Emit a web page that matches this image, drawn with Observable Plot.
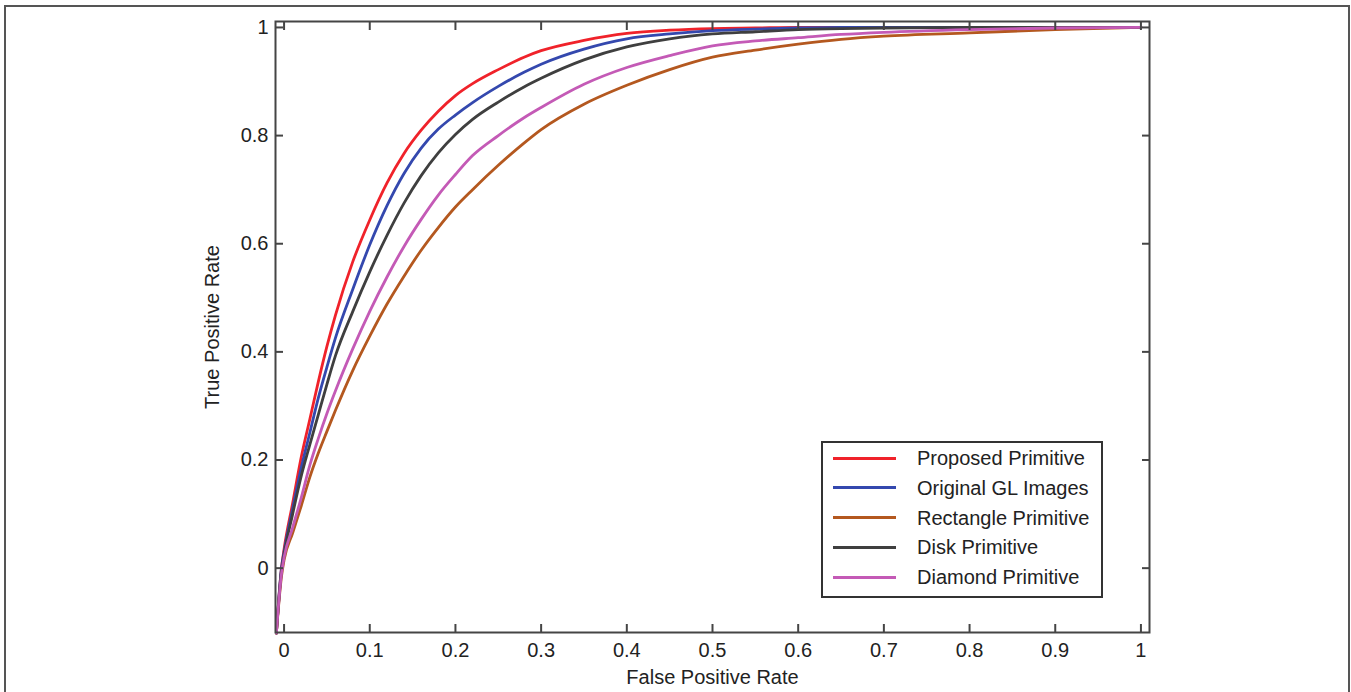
<!DOCTYPE html>
<html>
<head>
<meta charset="utf-8">
<script src="https://cdn.jsdelivr.net/npm/d3@7"></script>
<script src="https://cdn.jsdelivr.net/npm/@observablehq/plot@0.6"></script>
<style>
html, body { margin: 0; padding: 0; background: #fff; }
#wrap { position: relative; width: 1351px; height: 692px; overflow: hidden; font-family: "Liberation Sans", Arial, sans-serif; }
#border { position: absolute; left: 4px; top: 5px; width: 1346px; height: 740px; border: 2px solid #555; box-sizing: border-box; pointer-events: none; }
#chart { position: absolute; left: 0; top: 0; }
#legend { position: absolute; left: 821px; top: 441px; width: 282px; height: 157px; border: 2px solid #333; box-sizing: border-box; background: #fff; }
.lrow { position: absolute; left: 0; height: 0; }
.lline { position: absolute; left: 10px; width: 63px; height: 3px; top: -1.5px; }
.ltext { position: absolute; left: 94px; top: -12px; font-size: 20px; line-height: 24px; color: #222; white-space: nowrap; }
</style>
</head>
<body>
<div id="wrap">
  <div id="chart"></div>
  <div id="legend"></div>
  <div id="border"></div>
</div>
<script>
// ---- Data ----
const fpr = [-0.009, -0.003, 0, 0.01, 0.02, 0.03, 0.04, 0.05, 0.06, 0.08, 0.10, 0.12, 0.14, 0.16, 0.18, 0.20, 0.22, 0.25, 0.28, 0.30, 0.35, 0.40, 0.45, 0.50, 0.55, 0.60, 0.65, 0.70, 0.80, 0.90, 1.00];

const proposedPrimitive = [-0.12, 0.0, 0.035, 0.12, 0.205, 0.275, 0.345, 0.41, 0.468, 0.566, 0.644, 0.712, 0.767, 0.810, 0.845, 0.874, 0.896, 0.922, 0.945, 0.957, 0.976, 0.989, 0.995, 0.998, 0.999, 1.0, 1.0, 1.0, 1.0, 1.0, 1.0];
const originalGL = [-0.12, 0.0, 0.03, 0.11, 0.185, 0.25, 0.315, 0.372, 0.426, 0.515, 0.598, 0.670, 0.730, 0.777, 0.812, 0.838, 0.861, 0.891, 0.917, 0.932, 0.960, 0.979, 0.988, 0.994, 0.997, 0.999, 1.0, 1.0, 1.0, 1.0, 1.0];
const rectanglePrimitive = [-0.12, -0.015, 0.015, 0.065, 0.115, 0.168, 0.213, 0.253, 0.292, 0.365, 0.429, 0.488, 0.540, 0.588, 0.630, 0.668, 0.700, 0.745, 0.786, 0.811, 0.858, 0.893, 0.922, 0.945, 0.958, 0.969, 0.978, 0.984, 0.990, 0.996, 1.0];
const diskPrimitive = [-0.12, -0.005, 0.025, 0.10, 0.17, 0.228, 0.284, 0.34, 0.393, 0.474, 0.548, 0.615, 0.675, 0.726, 0.768, 0.802, 0.830, 0.862, 0.890, 0.906, 0.940, 0.964, 0.979, 0.988, 0.992, 0.996, 0.998, 0.999, 1.0, 1.0, 1.0];
const diamondPrimitive = [-0.12, -0.01, 0.02, 0.075, 0.13, 0.19, 0.24, 0.286, 0.328, 0.405, 0.475, 0.538, 0.595, 0.645, 0.690, 0.728, 0.763, 0.800, 0.833, 0.852, 0.895, 0.926, 0.948, 0.966, 0.975, 0.981, 0.987, 0.991, 0.996, 0.999, 1.0];

const seriesNames = ["Proposed Primitive", "Original GL Images", "Rectangle Primitive", "Disk Primitive", "Diamond Primitive"];
const seriesValues = [proposedPrimitive, originalGL, rectanglePrimitive, diskPrimitive, diamondPrimitive];
const seriesColors = ["#f0222a", "#3448ae", "#b4581f", "#3f3f3f", "#c45ab6"];

const xTicks = [0, 0.1, 0.2, 0.3, 0.4, 0.5, 0.6, 0.7, 0.8, 0.9, 1];
const xTickLabels = ["0", "0.1", "0.2", "0.3", "0.4", "0.5", "0.6", "0.7", "0.8", "0.9", "1"];
const yTicks = [0, 0.2, 0.4, 0.6, 0.8, 1];
const yTickLabels = ["0", "0.2", "0.4", "0.6", "0.8", "1"];

// ---- Build long table ----
const rows = [];
seriesNames.forEach((name, si) => {
  fpr.forEach((f, i) => rows.push({series: name, fpr: f, tpr: seriesValues[si][i]}));
});

const axisStroke = "#454545";
const textFill = "#222";

const chart = Plot.plot({
  width: 1351,
  height: 692,
  marginLeft: 275,
  marginRight: 202,
  marginTop: 21,
  marginBottom: 60,
  style: {fontFamily: '"Liberation Sans", Arial, sans-serif', fontSize: "20px", background: "transparent", overflow: "visible"},
  x: {domain: [-0.01, 1.01]},
  y: {domain: [-0.119, 1.011]},
  color: {domain: seriesNames, range: seriesColors},
  marks: [
    ...seriesNames.map((name) => Plot.line(rows.filter(d => d.series === name), {
      x: "fpr", y: "tpr", stroke: "series", strokeWidth: 2.8, curve: "monotone-x"
    })),
    Plot.frame({stroke: axisStroke, strokeWidth: 2}),
    Plot.axisX({anchor: "bottom", ticks: xTicks, tickFormat: (d) => xTickLabels[xTicks.indexOf(d)], tickSize: -8, tickPadding: 18, stroke: axisStroke, strokeWidth: 2, fill: textFill,
      label: "False Positive Rate", labelAnchor: "center", labelOffset: 51, labelArrow: "none"}),
    Plot.axisX({anchor: "top", ticks: xTicks, tickSize: -8, stroke: axisStroke, strokeWidth: 2, fill: "none", label: null}),
    Plot.axisY({anchor: "left", ticks: yTicks, tickFormat: (d) => yTickLabels[yTicks.indexOf(d)], tickSize: -8, tickPadding: 15, stroke: axisStroke, strokeWidth: 2, fill: textFill,
      label: "True Positive Rate", labelAnchor: "center", labelOffset: 71, labelArrow: "none"}),
    Plot.axisY({anchor: "right", ticks: yTicks, tickSize: -8, stroke: axisStroke, strokeWidth: 2, fill: "none", label: null})
  ]
});
document.getElementById("chart").appendChild(chart);

// ---- Legend ----
const legend = document.getElementById("legend");
seriesNames.forEach((name, i) => {
  const row = document.createElement("div");
  row.className = "lrow";
  row.style.top = (15 + i * 29.8) + "px";
  const line = document.createElement("div");
  line.className = "lline";
  line.style.background = seriesColors[i];
  const txt = document.createElement("div");
  txt.className = "ltext";
  txt.textContent = name;
  row.appendChild(line);
  row.appendChild(txt);
  legend.appendChild(row);
});
</script>
</body>
</html>
